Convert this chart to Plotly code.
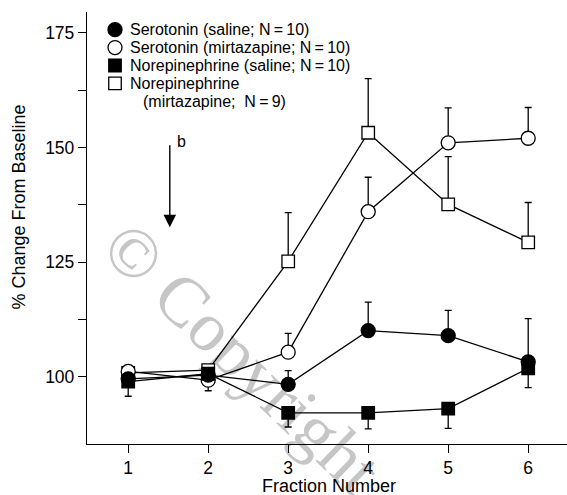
import plotly.graph_objects as go

fractions = [1, 2, 3, 4, 5, 6]

ser_saline = [99.6, 100.4, 98.4, 110.1, 109.0, 103.3]
ser_saline_err_up = [0.0, 0.0, 3.0, 6.2, 5.5, 9.4]
ser_saline_err_dn = [0.0, 0.0, 0.0, 0.0, 0.0, 0.0]

ser_mirt = [101.2, 99.3, 105.4, 136.0, 151.0, 152.0]
ser_mirt_err_up = [0.0, 0.0, 4.1, 7.5, 7.6, 6.7]
ser_mirt_err_dn = [0.0, 2.3, 0.0, 0.0, 0.0, 0.0]

ne_saline = [99.0, 100.7, 92.2, 92.2, 93.1, 101.9]
ne_saline_err_up = [0.0, 0.0, 0.0, 0.0, 0.0, 0.0]
ne_saline_err_dn = [3.2, 0.0, 3.1, 3.5, 4.3, 4.2]

ne_mirt = [100.9, 101.5, 125.2, 153.2, 137.6, 129.3]
ne_mirt_err_up = [0.0, 0.0, 10.6, 11.8, 10.4, 8.7]
ne_mirt_err_dn = [0.0, 0.0, 0.0, 0.0, 0.0, 0.0]

legend_lines = [
    "Serotonin (saline; N\u2009=\u200910)",
    "Serotonin (mirtazapine; N\u2009=\u200910)",
    "Norepinephrine (saline; N\u2009=\u200910)",
    "Norepinephrine",
]
legend_line5 = "(mirtazapine;\u00a0 N\u2009=\u20099)"

y_ticks = [100, 125, 150, 175]
y_minor = [112.5, 137.5, 162.5]

FONT = "Liberation Sans, Arial, sans-serif"

# plot-area geometry in pixels (for placing non-data decorations)
W, H = 567, 495
L, R, T, B = 87, 0, 12, 51
PW, PH = W - L - R, H - T - B


def px_x(px):
    return (px - L) / PW


def px_y(py):
    return (H - B - py) / PH


series = [
    (ser_saline, ser_saline_err_up, ser_saline_err_dn, "circle", "black", 14),
    (ser_mirt, ser_mirt_err_up, ser_mirt_err_dn, "circle", "white", 14),
    (ne_saline, ne_saline_err_up, ne_saline_err_dn, "square", "black", 12.5),
    (ne_mirt, ne_mirt_err_up, ne_mirt_err_dn, "square", "white", 12.5),
]

fig = go.Figure()

# watermark (drawn below data)
fig.add_shape(
    type="rect", xref="paper", yref="paper",
    x0=px_x(248) - 0.01, x1=px_x(248) + 0.01, y0=px_y(352) - 0.01, y1=px_y(352) + 0.01,
    line=dict(width=0), fillcolor="rgba(0,0,0,0)", layer="below",
    label=dict(text="\u00a9 Copyright", textangle=44, textposition="middle center",
               font=dict(family="Liberation Serif, serif", size=70, color="#c6c6c6")),
)

# draw order: NE mirt, Ser mirt, Ser saline, NE saline
for idx in [3, 1, 0, 2]:
    vals, eu, ed, sym, fill, size = series[idx]
    fig.add_trace(go.Scatter(
        x=fractions, y=vals, mode="lines+markers",
        line=dict(color="black", width=1.3),
        marker=dict(symbol=sym, size=size, color=fill,
                    line=dict(color="black", width=1.3)),
        error_y=dict(type="data", symmetric=False, array=eu, arrayminus=ed,
                     color="black", thickness=1.3, width=3.5),
        showlegend=False,
    ))

# manual legend
row_y = [29.7, 47.6, 65.5, 83.4]
for i, (vals, eu, ed, sym, fill, size) in enumerate(series):
    cx, cy = px_x(115), px_y(row_y[i])
    half = size / 2
    fig.add_shape(
        type="circle" if sym == "circle" else "rect",
        xref="paper", yref="paper", xsizemode="pixel", ysizemode="pixel",
        xanchor=cx, yanchor=cy, x0=-half, x1=half, y0=-half, y1=half,
        line=dict(color="black", width=1.3), fillcolor=fill,
    )
    fig.add_annotation(
        x=px_x(128), y=cy, xref="paper", yref="paper", xanchor="left", yanchor="middle",
        text=legend_lines[i], showarrow=False,
        font=dict(family=FONT, size=16, color="black"),
    )
fig.add_annotation(
    x=px_x(140.5), y=px_y(101.3), xref="paper", yref="paper", xanchor="left", yanchor="middle",
    text=legend_line5, showarrow=False,
    font=dict(family=FONT, size=16, color="black"),
)

# arrow
fig.add_annotation(
    x=1.52, y=132.6, ax=1.52, ay=150.8, xref="x", yref="y", axref="x", ayref="y",
    showarrow=True, arrowhead=2, arrowsize=1.8, arrowwidth=1.4, arrowcolor="black", text="",
)
fig.add_annotation(
    x=1.59, y=151.2, xref="x", yref="y", text="b", showarrow=False,
    xanchor="left", yanchor="middle",
    font=dict(family=FONT, size=16, color="black"),
)

# axis titles
fig.add_annotation(
    x=px_x(18.5), y=px_y(207), xref="paper", yref="paper", text="% Change From Baseline",
    textangle=-90, showarrow=False, xanchor="center", yanchor="middle",
    font=dict(family=FONT, size=18, color="black"),
)
fig.add_annotation(
    x=px_x(329), y=px_y(485.5), xref="paper", yref="paper", text="Fraction Number",
    showarrow=False, xanchor="center", yanchor="middle",
    font=dict(family=FONT, size=18, color="black"),
)

fig.update_layout(
    width=W, height=H,
    margin=dict(l=L, r=R, t=T, b=B),
    paper_bgcolor="white", plot_bgcolor="white",
    font=dict(family=FONT, size=17.5, color="black"),
    showlegend=False,
    xaxis=dict(
        range=[0.485, 6.485], tickvals=fractions, ticktext=[str(v) for v in fractions],
        showgrid=False, zeroline=False, showline=True, linecolor="black", linewidth=1.3,
        ticks="outside", ticklen=8, tickwidth=1.3, tickcolor="black",
        tickfont=dict(size=17.5),
    ),
    yaxis=dict(
        range=[85.4, 179.5], tickvals=y_ticks, ticktext=[str(v) for v in y_ticks],
        showgrid=False, zeroline=False, showline=True, linecolor="black", linewidth=1.3,
        ticks="outside", ticklen=8, tickwidth=1.3, tickcolor="black",
        tickfont=dict(size=17.5),
        minor=dict(tickvals=y_minor, ticks="outside", ticklen=8, tickwidth=1.3, tickcolor="black"),
    ),
)

fig.write_html("out.html")
